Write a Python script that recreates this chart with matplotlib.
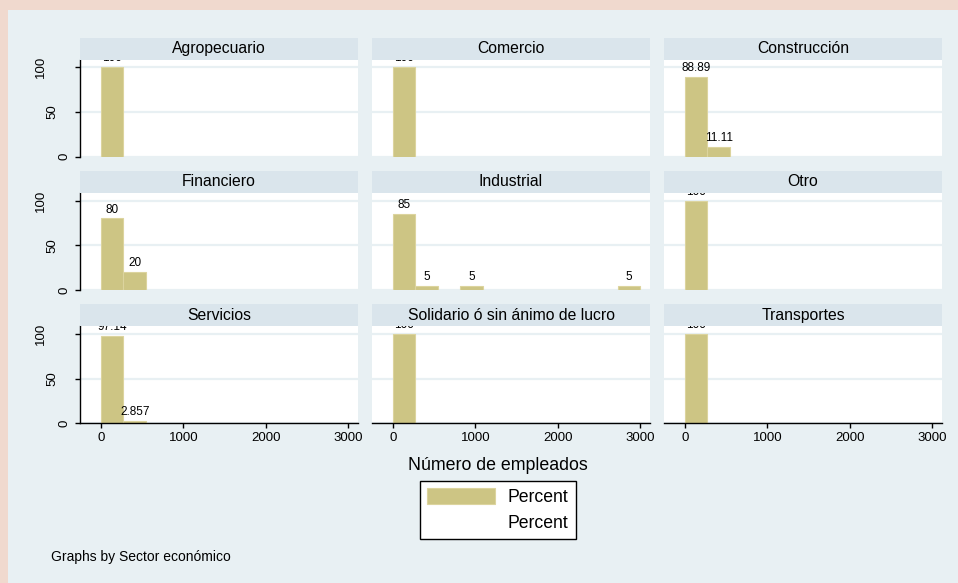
import matplotlib
matplotlib.use("Agg")
import matplotlib.pyplot as plt
from matplotlib.patches import Patch
import matplotlib.transforms as mtransforms

plt.rcParams['font.family'] = ['Liberation Sans', 'DejaVu Sans']

# datos: porcentaje por intervalo del histograma (11 intervalos de 0 a 3000)
sectores = ['Agropecuario', 'Comercio', 'Construcción',
            'Financiero', 'Industrial', 'Otro',
            'Servicios', 'Solidario ó sin ánimo de lucro', 'Transportes']
porcentajes = [
    [100, 0, 0, 0, 0, 0, 0, 0, 0, 0, 0],
    [100, 0, 0, 0, 0, 0, 0, 0, 0, 0, 0],
    [88.89, 11.11, 0, 0, 0, 0, 0, 0, 0, 0, 0],
    [80, 20, 0, 0, 0, 0, 0, 0, 0, 0, 0],
    [85, 5, 0, 5, 0, 0, 0, 0, 0, 0, 5],
    [100, 0, 0, 0, 0, 0, 0, 0, 0, 0, 0],
    [97.14, 2.857, 0, 0, 0, 0, 0, 0, 0, 0, 0],
    [100, 0, 0, 0, 0, 0, 0, 0, 0, 0, 0],
    [100, 0, 0, 0, 0, 0, 0, 0, 0, 0, 0],
]
etiquetas = [
    ['100'], ['100'], ['88.89', '11.11'],
    ['80', '20'], ['85', '5', '5', '5'], ['100'],
    ['97.14', '2.857'], ['100'], ['100'],
]
ancho_bin = 3000 / 11
inicio_bins = [i * ancho_bin for i in range(11)]
xticks = [0, 1000, 2000, 3000]
yticks = [0, 50, 100]

# colores
c_barra = '#cdc584'
c_borde = '#dcd49e'
c_fondo = '#e8f0f3'
c_cabecera = '#dae5ec'
c_exterior = '#f0d9ce'

W, H = 958, 583
fig = plt.figure(figsize=(W / 100, H / 100), dpi=100, facecolor=c_exterior)
fondo = fig.add_axes([8 / W, 0, (W - 8) / W, (H - 10) / H], zorder=-10)
fondo.set_facecolor(c_fondo)
fondo.set_xticks([])
fondo.set_yticks([])
for s in fondo.spines.values():
    s.set_visible(False)

def px(left, top, w, h):
    return [left / W, 1 - (top + h) / H, w / W, h / H]

col_left = [80, 372, 664]
ancho_panel = 278
fila_top = [37.7, 171.0, 304.3]
alto_cab = 22
alto_plot = 97
x0_px = 21
escala = 82.4 / 1000  # px por unidad
xlim = (-x0_px / escala, (ancho_panel - x0_px) / escala)
ylim = (0, 108.5)
# posicion x (px) de las etiquetas del eje y
ylab_x = {100: 41, 50: 52, 0: 64}

for k, sector in enumerate(sectores):
    r, c = divmod(k, 3)
    left = col_left[c]
    top = fila_top[r]
    ax = fig.add_axes(px(left, top + alto_cab, ancho_panel, alto_plot))
    ax.set_facecolor('white')
    ax.set_xlim(*xlim)
    ax.set_ylim(*ylim)
    ax.set_yticks(yticks)
    ax.set_xticks(xticks)
    ax.yaxis.grid(True, color=c_fondo, lw=1.6)
    ax.set_axisbelow(True)
    for s in ['top', 'right']:
        ax.spines[s].set_visible(False)

    vals = porcentajes[k]
    j = 0
    for x, v in zip(inicio_bins, vals):
        if v <= 0:
            continue
        ax.bar(x, v, width=ancho_bin, align='edge', color=c_barra,
               edgecolor=c_borde, linewidth=0.8, zorder=2)
        ax.annotate(etiquetas[k][j], (x + ancho_bin / 2, v), xytext=(0, 4.3),
                    textcoords='offset points', ha='center', va='baseline',
                    fontsize=8.5, annotation_clip=False, clip_on=True, zorder=3)
        j += 1

    ax.tick_params(axis='y', labelleft=False)
    if c == 0:
        ax.spines['left'].set_color('black')
        ax.spines['left'].set_linewidth(1)
        ax.tick_params(axis='y', direction='out', length=3.3, width=1)
        trans = mtransforms.blended_transform_factory(ax.transAxes, ax.transData)
        for yv in yticks:
            ax.text((ylab_x[yv] - left) / ancho_panel, yv, str(yv), transform=trans,
                    rotation=90, ha='center', va='center', fontsize=9.5)
    else:
        ax.spines['left'].set_visible(False)
        ax.tick_params(axis='y', left=False)

    if r == 2:
        ax.spines['bottom'].set_color('black')
        ax.spines['bottom'].set_linewidth(1)
        ax.tick_params(axis='x', direction='out', length=3.3, width=1,
                       labelsize=9.5, pad=3)
    else:
        ax.spines['bottom'].set_visible(False)
        ax.tick_params(axis='x', bottom=False, labelbottom=False)

    cab = fig.add_axes(px(left, top, ancho_panel, alto_cab))
    cab.set_facecolor(c_cabecera)
    cab.set_xticks([])
    cab.set_yticks([])
    for s in cab.spines.values():
        s.set_visible(False)
    cab.text(0.5, 0.5, sector, ha='center', va='center', fontsize=11.3,
             transform=cab.transAxes)

fig.text(498 / W, 1 - 465 / H, 'Número de empleados', ha='center', va='center',
         fontsize=12.8)

handles = [Patch(facecolor=c_barra, edgecolor=c_borde, linewidth=0.8),
           Patch(facecolor='none', edgecolor='none')]
leg = fig.legend(handles, ['Percent', 'Percent'], loc='center',
                 bbox_to_anchor=(497.5 / W, 1 - 510 / H), fontsize=12.7,
                 frameon=True, fancybox=False, edgecolor='black',
                 handlelength=3.9, handleheight=1.0, handletextpad=0.7,
                 labelspacing=0.42, borderpad=0.4)
leg.get_frame().set_linewidth(1)
leg.get_frame().set_facecolor('white')
leg.get_frame().set_alpha(1)

fig.text(50.7 / W, 1 - 556.7 / H, 'Graphs by Sector económico', ha='left',
         va='center', fontsize=10)

fig.savefig('out.png', dpi=100, facecolor=fig.get_facecolor())
